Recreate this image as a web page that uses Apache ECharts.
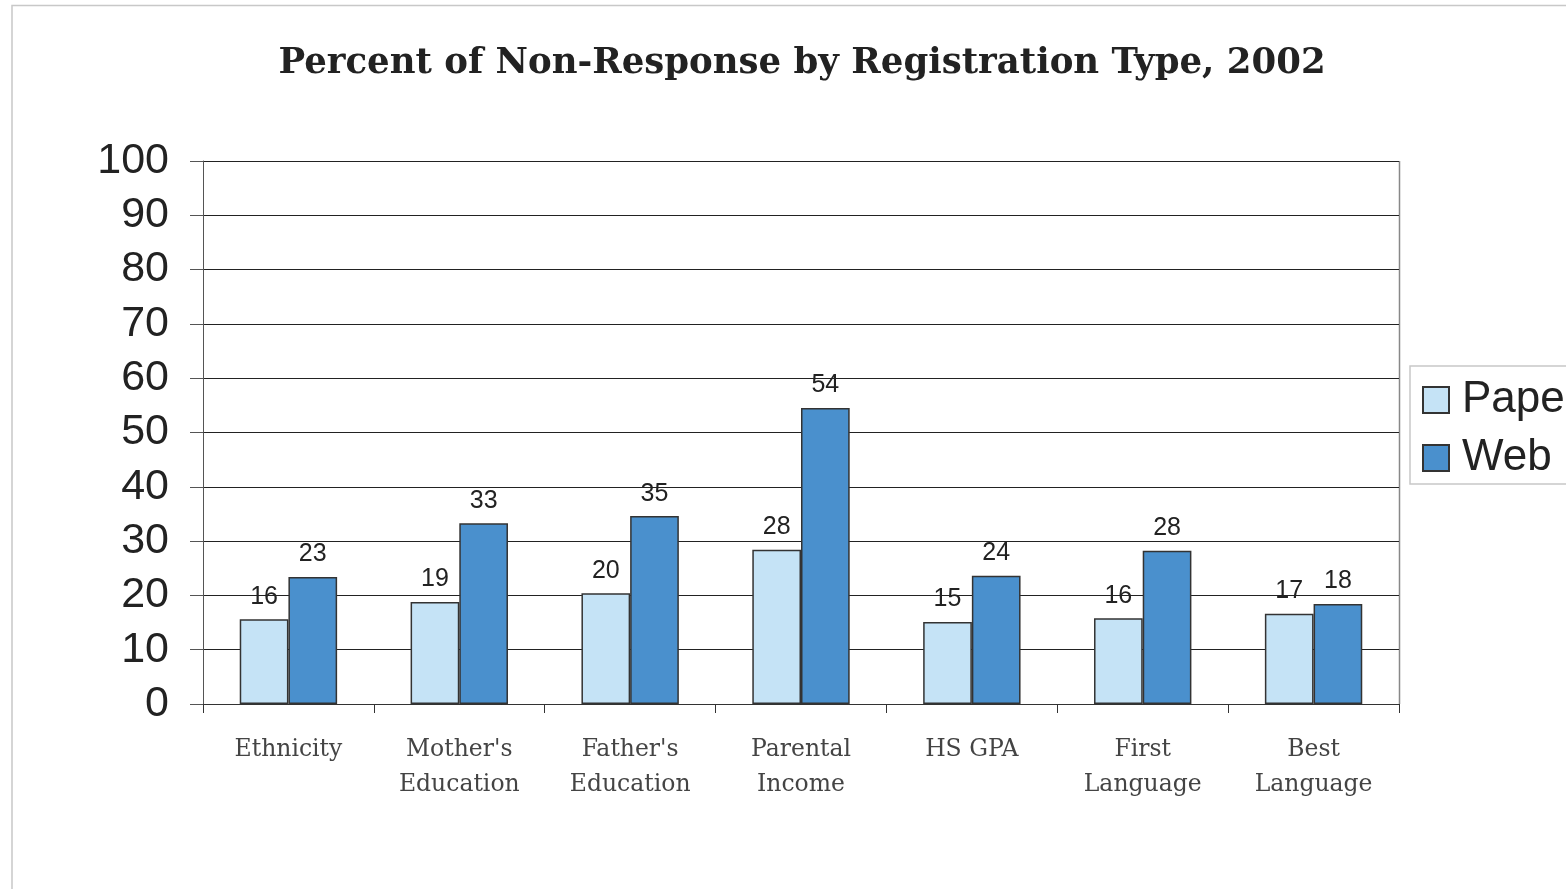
<!DOCTYPE html>
<html><head><meta charset="utf-8">
<script src="https://cdn.jsdelivr.net/npm/echarts@6/dist/echarts.min.js"></script>
<style>html,body{margin:0;padding:0;background:#fff}#c{width:1566px;height:889px}</style>
</head><body><div id="c"></div>
<script>
const categories = ["Ethnicity", "Mother's\nEducation", "Father's\nEducation", "Parental\nIncome", "HS GPA", "First\nLanguage", "Best\nLanguage"];
const paper = [15.6, 18.8, 20.4, 28.4, 15.1, 15.8, 16.6];
const web = [23.4, 33.3, 34.6, 54.5, 23.6, 28.2, 18.4];
const paperLabels = [16, 19, 20, 28, 15, 16, 17];
const webLabels = [23, 33, 35, 54, 24, 28, 18];
const yTicks = [0, 10, 20, 30, 40, 50, 60, 70, 80, 90, 100];

const chart = echarts.init(document.getElementById('c'), null, {renderer: 'canvas'});
const labelStyle = (arr) => ({
  show: true, position: 'top', distance: 10,
  fontFamily: 'Liberation Sans, Arial, sans-serif', fontSize: 25, color: '#222',
  formatter: p => arr[p.dataIndex]
});
chart.setOption({
  animation: false,
  title: {
    text: 'Percent of Non-Response by Registration Type, 2002',
    left: 797, textAlign: 'center', top: 41,
    textStyle: {fontFamily: 'DejaVu Serif, serif', fontWeight: 'bold', fontSize: 35.5, color: '#222'}
  },
  graphic: [
    {type: 'polyline', shape: {points: [[12, 889], [12, 5.5], [1566, 5.5]]}, style: {stroke: '#c8c8c8', lineWidth: 1.5, fill: null}},
    {type: 'line', shape: {x1: 1399.5, y1: 161, x2: 1399.5, y2: 704}, style: {stroke: '#888', lineWidth: 1.5}}
  ],
  legend: {
    orient: 'vertical', left: 1410, top: 366,
    padding: [12, 20, 4, 12], itemGap: 14,
    itemWidth: 26, itemHeight: 26,
    borderColor: '#c8c8c8', borderWidth: 1.5,
    textStyle: {fontFamily: 'Liberation Sans, Arial, sans-serif', fontSize: 44, color: '#222', padding: [0, 0, 0, 8]},
    data: [{name: 'Paper', icon: 'rect'}, {name: 'Web', icon: 'rect'}]
  },
  grid: {left: 203, right: 167, top: 161, bottom: 185},
  xAxis: {
    type: 'category', data: categories,
    axisLine: {lineStyle: {color: '#333', width: 1}},
    axisTick: {show: true, length: 9, lineStyle: {color: '#333'}},
    axisLabel: {margin: 28, fontFamily: 'DejaVu Serif, Liberation Serif, serif', fontSize: 23.5, color: '#444', lineHeight: 35}
  },
  yAxis: {
    type: 'value', min: 0, max: 100, interval: 10,
    axisLine: {show: true, lineStyle: {color: '#555', width: 1}},
    axisTick: {show: true, length: 13, lineStyle: {color: '#555'}},
    axisLabel: {margin: 34, fontFamily: 'Liberation Sans, Arial, sans-serif', fontSize: 43, color: '#222',
      formatter: v => yTicks.includes(v) ? String(v) : ''},
    splitLine: {lineStyle: {color: '#222', width: 1}}
  },
  series: [
    {name: 'Paper', type: 'bar', data: paper, barGap: '0%', barCategoryGap: '43%',
     itemStyle: {color: '#c5e3f6', borderColor: '#333', borderWidth: 1.5},
     label: labelStyle(paperLabels)},
    {name: 'Web', type: 'bar', data: web,
     itemStyle: {color: '#4a90cd', borderColor: '#333', borderWidth: 1.5},
     label: labelStyle(webLabels)}
  ]
});
</script></body></html>
